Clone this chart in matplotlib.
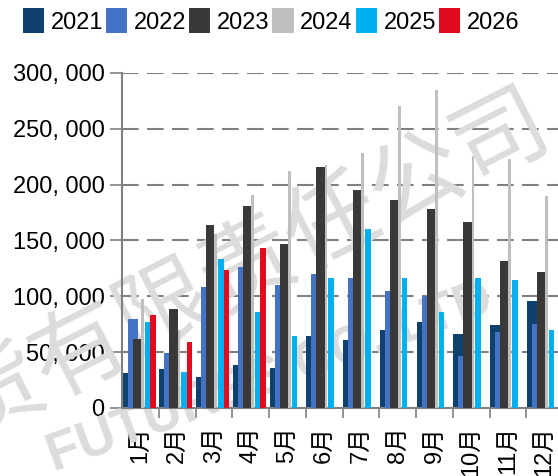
import numpy as np
import matplotlib.pyplot as plt
from matplotlib.ticker import FixedLocator, FuncFormatter

# monthly values
months = [f"{i}月" for i in range(1, 13)]
years = ["2021", "2022", "2023", "2024", "2025", "2026"]

v2021 = [31000, 35000, 28000, 38500, 35500, 64500, 61000, 70000, 77000, 66000, 74000, 96000]
v2022 = [80000, 49000, 108000, 126000, 110000, 120000, 116000, 105000, 100000, 47000, 68000, 75000]
v2023 = [62000, 89000, 164000, 181000, 147000, 216000, 195000, 186000, 178000, 167000, 132000, 122000]
v2024 = [98000, 70000, 156000, 191000, 212000, 218000, 228000, 270000, 285000, 226000, 223000, 190000]
v2025 = [77000, 32500, 133000, 86000, 64500, 116000, 160000, 116000, 86000, 116000, 115000, 70000]
v2026 = [83000, 59000, 124000, 143000]

series = [v2021, v2022, v2023, v2024, v2025, v2026]
colors = ["#0f416f", "#4472c4", "#3b3838", "#bfbfbf", "#00b0f0", "#e00b1c"]

# bar placement inside one month slot (pixels of a 36.75 px slot)
slot = 36.75
lefts = [0.5, 5.5, 10.5, 18.8, 22.5, 28.0]
widths = [10.0, 10.0, 8.3, 2.8, 5.5, 5.5]
zorders = [2, 3, 4, 3.5, 5, 6]

fig = plt.figure(figsize=(5.58, 4.76), dpi=100)
ax = fig.add_axes([122 / 558, 68 / 476, 441 / 558, 335 / 476])

for vals, c, l, w, z, y in zip(series, colors, lefts, widths, zorders, years):
    x = np.arange(len(vals)) + l / slot
    ax.bar(x, vals, width=w / slot, align="edge", color=c, zorder=z,
           linewidth=0, label=y)

ax.set_xlim(0, 12)
ax.set_ylim(0, 300000)

# y axis
ax.set_yticks(np.arange(0, 300001, 50000))
ax.yaxis.set_major_formatter(FuncFormatter(
    lambda v, p: "0" if v == 0 else f"{int(v):,}".replace(",", ", ")))
ax.tick_params(axis="y", direction="out", length=8.5, width=1.2,
               color="#808080", labelsize=17, pad=4)
for t in ax.get_yticklabels():
    t.set_family(["Liberation Sans", "DejaVu Sans"])

ax.set_axisbelow(True)
ax.grid(axis="y", color="#808080", linewidth=1.5, linestyle=(0, (8, 4)))

# x axis: ticks at month boundaries, labels in the middle
ax.xaxis.set_major_locator(FixedLocator(np.arange(0, 13)))
ax.xaxis.set_minor_locator(FixedLocator(np.arange(12) + 0.5))
ax.set_xticklabels([], minor=False)
ax.set_xticklabels(months, minor=True, rotation=90,
                   family=["Liberation Sans", "Noto Sans CJK SC"], fontsize=17)
ax.tick_params(axis="x", which="major", direction="out", length=7,
               width=1.2, color="#808080")
ax.tick_params(axis="x", which="minor", length=0, pad=13)

for s in ["top", "right"]:
    ax.spines[s].set_visible(False)
for s in ["left", "bottom"]:
    ax.spines[s].set_color("#808080")
    ax.spines[s].set_linewidth(1.5)

# legend across the top
fig.legend(loc="center", bbox_to_anchor=(271 / 558, 1 - 21 / 476), ncol=6,
           frameon=False, handlelength=0.9, handleheight=1.2,
           handletextpad=0.28, columnspacing=0.12, borderaxespad=0,
           prop={"family": "Liberation Sans", "size": 17})

# faint watermark, behind the bars
ax.text(249 / 558, 1 - 267 / 476, "货有限责任公司", rotation=27,
        ha="center", va="center", fontsize=68, color="#dcdcdc",
        family="Noto Sans CJK SC", zorder=1, clip_on=False,
        transform=fig.transFigure)
ax.text(270 / 558, 1 - 378 / 476, "FUTURES CO.,LTD", rotation=20,
        ha="center", va="center", fontsize=38, fontweight="bold",
        color="#dcdcdc", family="Liberation Sans", zorder=1, clip_on=False,
        transform=fig.transFigure)

fig.savefig("out.png", dpi=100)
